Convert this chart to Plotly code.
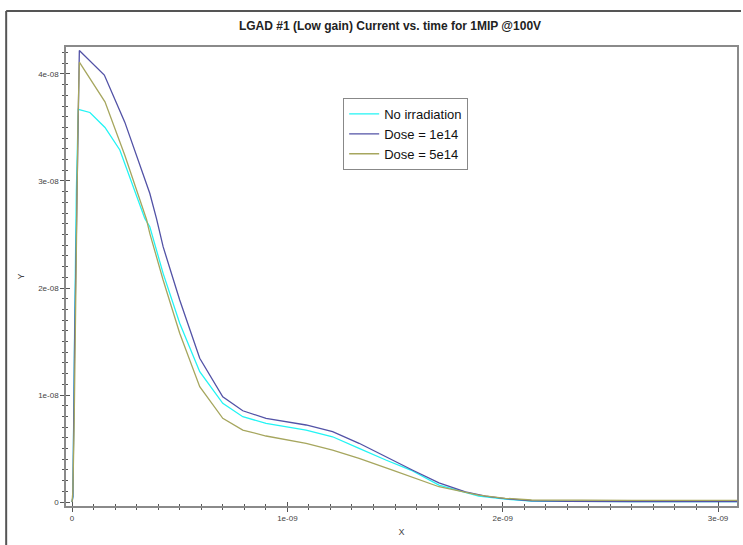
import numpy as np
import plotly.graph_objects as go

# Time axis in ns, current in units of 1e-8 A
t_none = [0, 0.004, 0.012, 0.02, 0.029, 0.083, 0.153, 0.222, 0.338, 0.361, 0.423, 0.5, 0.593, 0.7,
          0.793, 0.901, 1.087, 1.21, 1.333, 1.457, 1.573, 1.704, 1.889, 2.012, 2.134, 2.3, 2.6, 3.1]
i_none = [0, 0.05, 1.6, 2.9, 3.67, 3.64, 3.50, 3.29, 2.65, 2.573, 2.137, 1.67, 1.218, 0.922,
          0.797, 0.736, 0.673, 0.61, 0.502, 0.393, 0.299, 0.159, 0.056, 0.028, 0.009, 0.005, 0.004, 0.004]

t_1e14 = [0, 0.004, 0.012, 0.02, 0.028, 0.034, 0.15, 0.245, 0.361, 0.392, 0.423, 0.5, 0.593, 0.7,
          0.793, 0.901, 1.087, 1.21, 1.333, 1.457, 1.58, 1.704, 1.827, 1.92, 2.012, 2.134, 2.3, 2.6, 3.1]
i_1e14 = [0, 0.05, 1.5, 2.6, 3.7, 4.22, 3.99, 3.55, 2.885, 2.65, 2.386, 1.888, 1.343, 0.984,
          0.853, 0.782, 0.72, 0.657, 0.549, 0.423, 0.299, 0.18, 0.096, 0.056, 0.031, 0.012, 0.006, 0.005, 0.005]

t_5e14 = [0, 0.004, 0.01, 0.02, 0.028, 0.034, 0.153, 0.245, 0.346, 0.361, 0.423, 0.5, 0.593, 0.7,
          0.793, 0.901, 1.087, 1.21, 1.333, 1.488, 1.704, 1.889, 2.012, 2.134, 2.3, 2.6, 3.1]
i_5e14 = [0, 0.1, 0.75, 2.4, 3.6, 4.11, 3.74, 3.24, 2.64, 2.511, 2.075, 1.577, 1.078, 0.782,
          0.673, 0.617, 0.549, 0.486, 0.408, 0.299, 0.143, 0.065, 0.035, 0.019, 0.016, 0.015, 0.015]

series_names = ["No irradiation", "Dose = 1e14", "Dose = 5e14"]
series_colors = ["#22f4f4", "#5252a6", "#a6a65e"]

x_tickvals = [0, 1e-9, 2e-9, 3e-9]
x_ticktext = ["0", "1e-09", "2e-09", "3e-09"]
y_tickvals = [0, 1e-8, 2e-8, 3e-8, 4e-8]
y_ticktext = ["0", "1e-08", "2e-08", "3e-08", "4e-08"]

NS = 1e-9
UNIT_I = 1e-8

fig = go.Figure()
for name, color, t, i in zip(series_names, series_colors,
                             [t_none, t_1e14, t_5e14], [i_none, i_1e14, i_5e14]):
    fig.add_trace(go.Scatter(
        x=np.array(t) * NS, y=np.array(i) * UNIT_I, mode="lines", name=name,
        line=dict(color=color, width=1.3), hoverinfo="skip"))

# helper trace so the overlay axes (inner tick halves) are drawn
fig.add_trace(go.Scatter(x=[None], y=[None], xaxis="x2", yaxis="y2",
                         showlegend=False, hoverinfo="skip"))

x_range = [-0.028e-9, 3.088e-9]
y_range = [-0.037e-8, 4.252e-8]

tickfont = dict(family="Liberation Sans, Arial, sans-serif", size=8, color="#444")
axis_common = dict(showgrid=False, zeroline=False, showline=True, linecolor="#8a8a8a",
                   linewidth=1.5, tickcolor="#555", tickwidth=1)

fig.update_layout(
    width=743, height=545,
    margin=dict(l=66, r=4, t=47, b=39),
    paper_bgcolor="white", plot_bgcolor="white",
    title=dict(text="<b>LGAD #1 (Low gain) Current vs. time for 1MIP @100V</b>",
               x=390 / 743, xanchor="center", xref="container",
               y=1 - 26 / 545, yanchor="middle", yref="container",
               font=dict(family="Liberation Sans, Arial, sans-serif", size=12, color="#222")),
    xaxis=dict(range=x_range, tickvals=x_tickvals, ticktext=x_ticktext, ticks="outside",
               ticklen=4, mirror=True, tickfont=tickfont,
               minor=dict(dtick=1e-10, ticks="outside", ticklen=2, tickcolor="#555"),
               title=dict(text="X", font=dict(family="Liberation Sans, Arial, sans-serif",
                                              size=9, color="#444"), standoff=6),
               **axis_common),
    yaxis=dict(range=y_range, tickvals=y_tickvals, ticktext=y_ticktext, ticks="outside",
               ticklen=4, mirror=True, tickfont=tickfont,
               minor=dict(dtick=1e-9, ticks="outside", ticklen=2, tickcolor="#555"),
               title=dict(text="Y", font=dict(family="Liberation Sans, Arial, sans-serif",
                                              size=9, color="#444"), standoff=12),
               **axis_common),
    xaxis2=dict(overlaying="x", anchor="y2", range=x_range, tickvals=x_tickvals, ticks="inside",
                ticklen=4, showticklabels=False, showline=False, showgrid=False, zeroline=False,
                tickcolor="#555", minor=dict(dtick=1e-10, ticks="inside", ticklen=2, tickcolor="#555")),
    yaxis2=dict(overlaying="y", anchor="x2", range=y_range, tickvals=y_tickvals, ticks="inside",
                ticklen=4, showticklabels=False, showline=False, showgrid=False, zeroline=False,
                tickcolor="#555", minor=dict(dtick=1e-9, ticks="inside", ticklen=2, tickcolor="#555")),
    legend=dict(x=(344 - 66) / 673, y=(506 - 98) / 459, xanchor="left", yanchor="top",
                bgcolor="white", bordercolor="#888", borderwidth=1,
                font=dict(family="Liberation Sans, Arial, sans-serif", size=13, color="#111"),
                itemwidth=30, tracegroupgap=0),
    showlegend=True,
)

# outer window frame
fig.add_shape(type="line", xref="paper", yref="paper",
              x0=(6 - 66) / 673, x1=(6 - 66) / 673, y0=(506 - 545) / 459, y1=(506 - 11) / 459,
              line=dict(color="#555", width=2))
fig.add_shape(type="line", xref="paper", yref="paper",
              x0=(6 - 66) / 673, x1=(743 - 66) / 673, y0=(506 - 11) / 459, y1=(506 - 11) / 459,
              line=dict(color="#555", width=2))

fig.write_html("out.html")
